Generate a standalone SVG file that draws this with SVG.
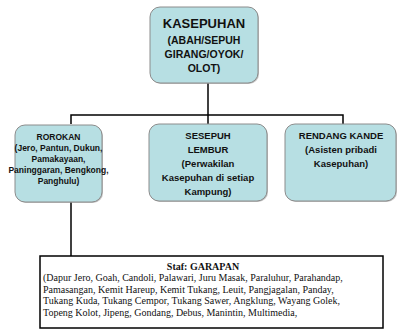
<svg xmlns="http://www.w3.org/2000/svg" width="399" height="331" viewBox="0 0 399 331">
<defs>
<style>
.box{fill:#b7dfe3;stroke:#8c8c8c;stroke-width:1}
.sh{fill:#9a9a9a;opacity:0.6}
.t{font-family:"Liberation Sans",Arial,sans-serif;font-weight:bold;fill:#111;text-anchor:middle}
.s{font-family:"Liberation Serif","Times New Roman",serif;fill:#111;font-size:10px}
.c{fill:none;stroke:#000;stroke-width:1.5}
</style>
</defs>
<rect width="399" height="331" fill="#fff"/>
<g id="connectors">
<path class="c" d="M208 83V124"/>
<path class="c" d="M71 124V115H343V124"/>
<path class="c" d="M71 202V256"/>
</g>
<g id="kasepuhan">
<rect class="sh" x="151" y="8" width="108" height="76" rx="10"/>
<rect class="box" x="150" y="7" width="108" height="76" rx="10"/>
<text class="t" x="204" y="28" font-size="13">KASEPUHAN</text>
<text class="t" x="204" y="44" font-size="10.5">(ABAH/SEPUH</text>
<text class="t" x="204" y="58" font-size="10.5">GIRANG/OYOK/</text>
<text class="t" x="204" y="72" font-size="10.5">OLOT)</text>
</g>
<g id="rorokan">
<rect class="sh" x="16" y="126" width="87" height="77" rx="10"/>
<rect class="box" x="15" y="125" width="87" height="77" rx="10"/>
<text class="t" x="58.5" y="140" font-size="8.5">ROROKAN</text>
<text class="t" x="58.5" y="151" font-size="8.5">(Jero, Pantun, Dukun,</text>
<text class="t" x="58.5" y="162" font-size="8.5">Pamakayaan,</text>
<text class="t" x="58.5" y="173" font-size="8.5">Paninggaran, Bengkong,</text>
<text class="t" x="58.5" y="184" font-size="8.5">Panghulu)</text>
</g>
<g id="sesepuh">
<rect class="sh" x="150" y="125" width="118" height="77" rx="10"/>
<rect class="box" x="149" y="124" width="118" height="77" rx="10"/>
<text class="t" x="208" y="139" font-size="9.5">SESEPUH</text>
<text class="t" x="208" y="153" font-size="9.5">LEMBUR</text>
<text class="t" x="208" y="167" font-size="9.5">(Perwakilan</text>
<text class="t" x="208" y="181" font-size="9.5">Kasepuhan di setiap</text>
<text class="t" x="208" y="195" font-size="9.5">Kampung)</text>
</g>
<g id="rendang">
<rect class="sh" x="286" y="125" width="111" height="77" rx="10"/>
<rect class="box" x="285" y="124" width="111" height="77" rx="10"/>
<text class="t" x="341" y="139" font-size="9.5">RENDANG KANDE</text>
<text class="t" x="341" y="153" font-size="9.5">(Asisten pribadi</text>
<text class="t" x="341" y="167" font-size="9.5">Kasepuhan)</text>
</g>
<g id="garapan">
<rect x="40" y="256" width="343" height="72" fill="#fff" stroke="#000" stroke-width="1.5"/>
<text class="s" x="203" y="270" text-anchor="middle" font-weight="bold">Staf: GARAPAN</text>
<text class="s" x="43" y="281">(Dapur Jero, Goah, Candoli, Palawari, Juru Masak, Paraluhur, Parahandap,</text>
<text class="s" x="43" y="292.5">Pamasangan, Kemit Hareup, Kemit Tukang, Leuit, Pangjagalan, Panday,</text>
<text class="s" x="43" y="304">Tukang Kuda, Tukang Cempor, Tukang Sawer, Angklung, Wayang Golek,</text>
<text class="s" x="43" y="315.5">Topeng Kolot, Jipeng, Gondang, Debus, Manintin, Multimedia,</text>
</g>
</svg>
